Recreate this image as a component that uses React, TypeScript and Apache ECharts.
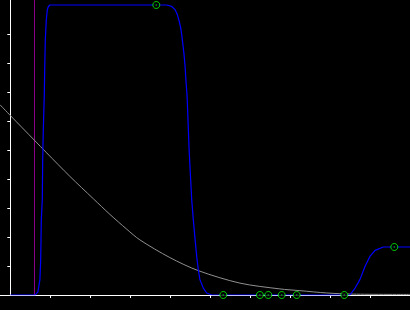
import React, { useEffect, useRef } from "react";
import * as echarts from "echarts";

// x ticks and y ticks (unlabelled)
const xTicks = [1, 2, 3, 4, 5, 6, 7, 8, 9];
const yTicks = [1, 2, 3, 4, 5, 6, 7, 8, 9];

// vertical marker position
const markerX = 0.605;

// blue step-like curve [x, y]
const blueCurve: [number, number][] = [
  [0, 0], [0.62, 0], [0.64, 0.03], [0.69, 0.11], [0.74, 0.53], [0.76, 1.22],
  [0.775, 2.6], [0.8, 3.29], [0.81, 4.67], [0.825, 5.7], [0.85, 6.9],
  [0.86, 7.77], [0.875, 8.8], [0.9, 9.49], [0.925, 9.83], [0.95, 9.94],
  [0.99, 10], [3.91, 10], [4.035, 9.95], [4.12, 9.84], [4.175, 9.67],
  [4.225, 9.43], [4.26, 9.21], [4.285, 8.98], [4.31, 8.69], [4.34, 8.34],
  [4.37, 7.88], [4.39, 7.42], [4.42, 6.85], [4.47, 5.01], [4.535, 3.29],
  [4.575, 2.6], [4.62, 1.91], [4.66, 1.33], [4.7, 0.87], [4.74, 0.53],
  [4.825, 0.24], [4.91, 0.07], [5.035, 0], [8.49, 0], [8.62, 0.24],
  [8.74, 0.53], [8.87, 0.99], [8.99, 1.33], [9.12, 1.54], [9.325, 1.655],
  [9.9925, 1.655],
];

// gray decaying curve [x, y]
const grayCurve: [number, number][] = [
  [-0.2575, 6.56], [0, 6.19], [0.6, 5.34], [0.91, 4.9], [1.49, 4.09],
  [2.075, 3.32], [2.49, 2.78], [2.91, 2.27], [3.24, 1.9], [3.99, 1.29],
  [4.7, 0.84], [5.74, 0.41], [6.74, 0.21], [7.24, 0.15], [7.91, 0.07],
  [8.57, 0.03], [9.9925, 0.02],
];

// green sample markers [x, y]
const samplePoints: [number, number][] = [
  [3.65, 10], [5.325, 0], [6.24, 0], [6.45, 0], [6.785, 0], [7.16, 0],
  [8.35, 0], [9.6, 1.655],
];

const X_MIN = -0.2575;
const X_MAX = 9.9925;
const Y_MAX = 295 / 29;

export default function App() {
  const ref = useRef<HTMLDivElement>(null);
  useEffect(() => {
    document.body.style.margin = "0";
    document.body.style.background = "#000";
    const chart = echarts.init(ref.current!, null, { renderer: "svg" });
    chart.setOption({
      animation: false,
      backgroundColor: "#000",
      grid: { left: 0, right: 0, top: 0, bottom: 15 },
      xAxis: {
        type: "value",
        min: X_MIN,
        max: X_MAX,
        splitLine: { show: false },
        axisLine: { show: true, lineStyle: { color: "#fff", width: 1 } },
        axisTick: { show: true, length: 3, lineStyle: { color: "#fff" }, customValues: xTicks },
        axisLabel: { show: false },
      },
      yAxis: {
        type: "value",
        min: 0,
        max: Y_MAX,
        splitLine: { show: false },
        axisLine: { show: true, onZero: true, lineStyle: { color: "#fff", width: 1 } },
        axisTick: { show: true, length: 3, lineStyle: { color: "#fff" }, customValues: yTicks },
        axisLabel: { show: false },
      },
      series: [
        {
          type: "line",
          data: [[markerX, 0], [markerX, Y_MAX]],
          showSymbol: false,
          lineStyle: { color: "#8a008a", width: 1 },
          z: 1,
        },
        {
          type: "line",
          data: grayCurve,
          showSymbol: false,
          smooth: 0.3,
          lineStyle: { color: "#909090", width: 1 },
          z: 2,
        },
        {
          type: "line",
          data: blueCurve,
          showSymbol: false,
          lineStyle: { color: "#0000ff", width: 1.2 },
          z: 3,
        },
        {
          type: "scatter",
          data: samplePoints,
          symbol: "circle",
          symbolSize: 7,
          itemStyle: { color: "#000", borderColor: "#00ff00", borderWidth: 1 },
          z: 4,
        },
        {
          type: "scatter",
          data: samplePoints,
          symbol: "circle",
          symbolSize: 1.5,
          itemStyle: { color: "#00cc00" },
          z: 5,
        },
      ],
    });
    return () => chart.dispose();
  }, []);
  return (
    <div
      ref={ref}
      style={{ position: "fixed", left: 0, top: 0, width: 410, height: 310, background: "#000" }}
    />
  );
}
